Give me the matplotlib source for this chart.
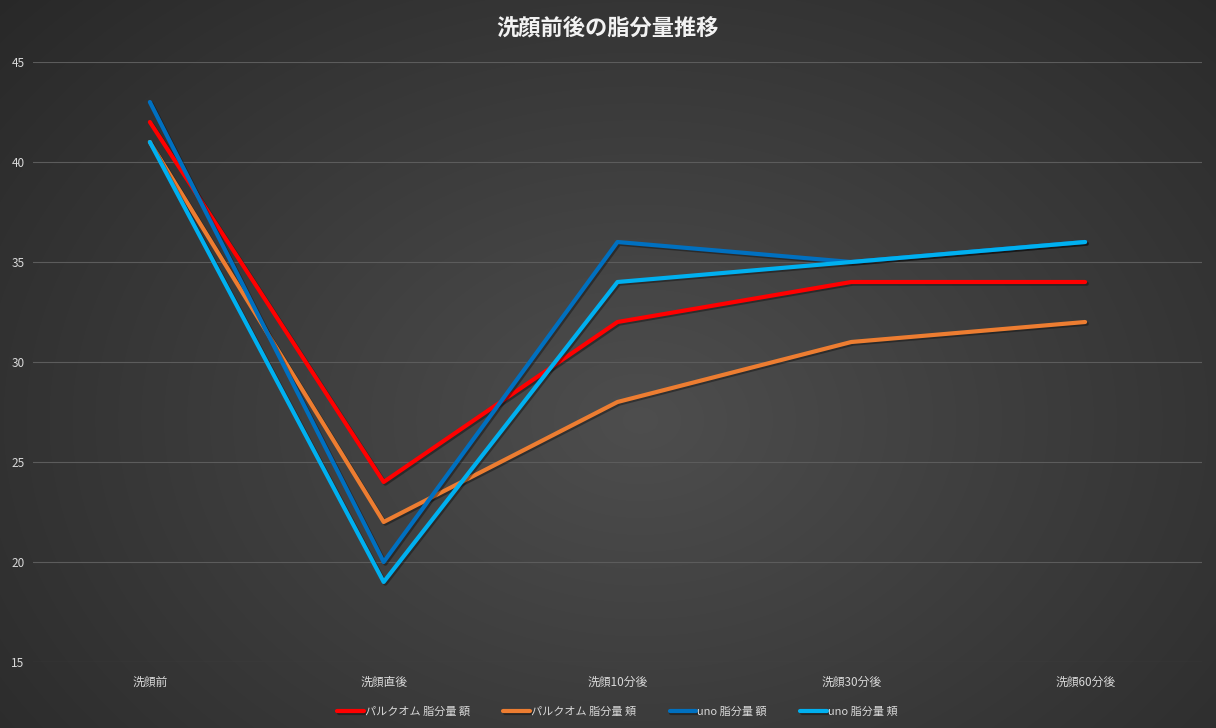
import matplotlib
matplotlib.use("Agg")
import matplotlib.pyplot as plt
import matplotlib.patheffects as pe
import numpy as np

plt.rcParams['font.family'] = ['Noto Sans CJK JP', 'DejaVu Sans']

# data
categories = ['洗顔前', '洗顔直後', '洗顔10分後', '洗顔30分後', '洗顔60分後']
parku_forehead = [42, 24, 32, 34, 34]
parku_cheek = [41, 22, 28, 31, 32]
uno_forehead = [43, 20, 36, 35, 36]
uno_cheek = [41, 19, 34, 35, 36]

series_names = ['パルクオム 脂分量 額', 'パルクオム 脂分量 頬', 'uno 脂分量 額', 'uno 脂分量 頬']
series_values = [parku_forehead, parku_cheek, uno_forehead, uno_cheek]
series_colors = ['#FF0000', '#ED7D31', '#0070C0', '#00B0F0']

fig = plt.figure(figsize=(12.16, 7.28), dpi=100)

# radial gradient background, like the Excel dark style
bg = fig.add_axes([0, 0, 1, 1], zorder=-10)
yy, xx = np.mgrid[0:728, 0:1216]
r = np.sqrt(((xx - 640) / 760.0) ** 2 + ((yy - 420) / 560.0) ** 2)
shade = np.clip(0.305 - 0.13 * r, 0.16, 0.31)
bg.imshow(np.dstack([shade] * 3), aspect='auto', extent=[0, 1, 0, 1])
bg.axis('off')

ax = fig.add_axes([0.0271, 0.0907, 0.9614, 0.8241])
ax.patch.set_alpha(0)
x = np.arange(len(categories))

for name, vals, col in zip(series_names, series_values, series_colors):
    ax.plot(x, vals, color=col, linewidth=3.0, label=name, solid_capstyle='round',
            path_effects=[pe.SimpleLineShadow(offset=(1.2, -1.2), alpha=0.35), pe.Normal()])

ax.set_xlim(-0.5, len(categories) - 0.5)
ax.set_ylim(15, 45)
ax.set_yticks(range(15, 46, 5))
ax.set_xticks(x)
ax.set_xticklabels(categories)
ax.grid(axis='y', color='#5c5c5c', linewidth=0.8)
ax.set_axisbelow(True)
for s in ax.spines.values():
    s.set_visible(False)
ax.tick_params(axis='both', length=0, colors='#d9d9d9', labelsize=8.5)
ax.tick_params(axis='x', pad=10)
ax.tick_params(axis='y', pad=6)

fig.text(0.5, 0.961, '洗顔前後の脂分量推移', ha='center', va='center',
         color='#f2f2f2', fontsize=16, fontweight='bold')

leg = ax.legend(loc='center', bbox_to_anchor=(0.5, -0.083), ncol=4, frameon=False,
                fontsize=8, handlelength=2.4, handletextpad=0.1, columnspacing=3.0)
for t in leg.get_texts():
    t.set_color('#d9d9d9')
for h in leg.get_lines():
    h.set_linewidth(3.0)

fig.savefig('out.png', dpi=100)
